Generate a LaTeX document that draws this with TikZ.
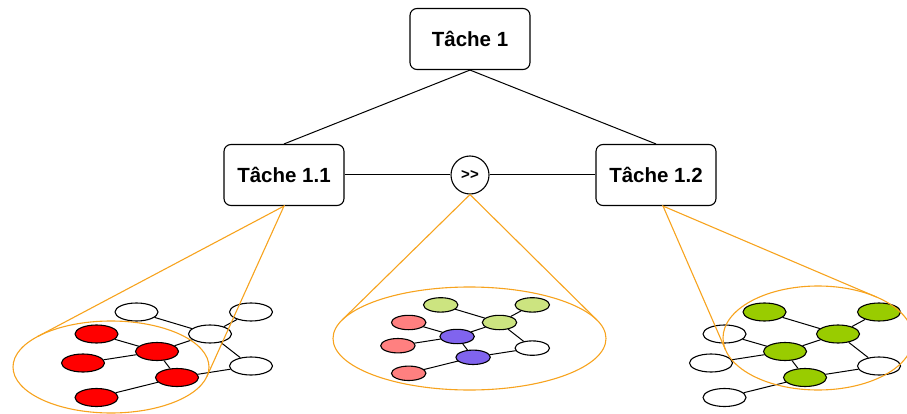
\documentclass[tikz,border=0pt]{standalone}
\usepackage{fontspec}
\setmainfont{Liberation Sans}
\usetikzlibrary{shapes.geometric}

\definecolor{orangetrait}{RGB}{247,163,30}
\definecolor{rouge}{RGB}{255,0,0}
\definecolor{rose}{RGB}{255,128,128}
\definecolor{mauve}{RGB}{128,100,238}
\definecolor{vertclair}{RGB}{204,228,128}
\definecolor{vert}{RGB}{153,204,0}

\tikzset{
	tache/.style={draw,rounded corners=7pt,line width=1.1pt,minimum width=120pt,
		minimum height=61pt,font=\fontsize{20.5}{24}\selectfont\bfseries},
	seq/.style={draw,circle,line width=1.1pt,minimum size=38pt,inner sep=0pt,
		font=\fontsize{15}{17}\selectfont\bfseries},
	sommet/.style={draw,ellipse,line width=1.1pt,minimum width=43pt,
		minimum height=18pt,inner sep=0pt},
	lien/.style={line width=1pt},
	zoom/.style={draw=orangetrait,line width=1.1pt}
}

% reseau de 9 sommets, couleurs de remplissage en arguments
\newcommand{\reseau}[9]{%
	\node[sommet,fill=#1] (a) at (-73.5,-22) {};
	\node[sommet,fill=#2] (b) at (41,-22) {};
	\node[sommet,fill=#3] (c) at (0,0) {};
	\node[sommet,fill=#4] (d) at (41,32) {};
	\node[sommet,fill=#5] (e) at (-113.5,0) {};
	\node[sommet,fill=#6] (f) at (-127,29) {};
	\node[sommet,fill=#7] (g) at (-53,17.5) {};
	\node[sommet,fill=#8] (h) at (-33,43.5) {};
	\node[sommet,fill=#9] (i) at (-113.5,63.5) {};
	\foreach \u/\v in {a/c,b/c,c/d,c/g,e/g,f/g,g/h,h/d,h/i}
		\draw[lien] (\u) -- (\v);
}

\begin{document}
\begin{tikzpicture}[x=1pt,y=-1pt]
	\useasboundingbox (0,0) rectangle (907,414);
	\clip (0,0) rectangle (907,414);
	% arbre des taches
	\node[tache] (t1) at (470,39) {Tâche 1};
	\node[tache] (t11) at (284,175) {Tâche 1.1};
	\node[tache] (t12) at (656,175) {Tâche 1.2};
	\node[seq] (s) at (470,175) {{>}{>}};
	\draw[lien] (t1.south) -- (t11.north);
	\draw[lien] (t1.south) -- (t12.north);
	\draw[lien] (t11.east) -- (s) -- (t12.west);
	% les trois reseaux
	\begin{scope}[shift={(210,334)},name prefix=g-]
		\reseau{white}{white}{white}{white}{rouge}{rouge}{rouge}{rouge}{rouge}
	\end{scope}
	\begin{scope}[shift={(499.5,322.5)},scale=0.8,transform shape,name prefix=m-]
		\reseau{vertclair}{vertclair}{vertclair}{white}{rose}{rose}{mauve}{mauve}{rose}
	\end{scope}
	\begin{scope}[shift={(838,334)},name prefix=d-]
		\reseau{vert}{vert}{vert}{white}{white}{white}{vert}{vert}{white}
	\end{scope}
	% zooms
	\coordinate (zg) at (111,367);
	\coordinate (zm) at (469.5,338.5);
	\coordinate (zd) at (818,338);
	\draw[zoom] (zg) ellipse [x radius=98,y radius=46];
	\draw[zoom] (zm) ellipse [x radius=136.5,y radius=51.5];
	\draw[zoom] (zd) ellipse [x radius=95,y radius=52];
	\draw[zoom] ([shift={(-138.5:98 and 46)}]zg) -- (t11.south)
		-- ([shift={(12:98 and 46)}]zg);
	\draw[zoom] ([shift={(-159:136.5 and 51.5)}]zm) -- (s.south)
		-- ([shift={(-21:136.5 and 51.5)}]zm);
	\draw[zoom] ([shift={(166.6:95 and 52)}]zd) -- ([xshift=7pt]t12.south)
		-- ([shift={(-52:95 and 52)}]zd);
\end{tikzpicture}
\end{document}
